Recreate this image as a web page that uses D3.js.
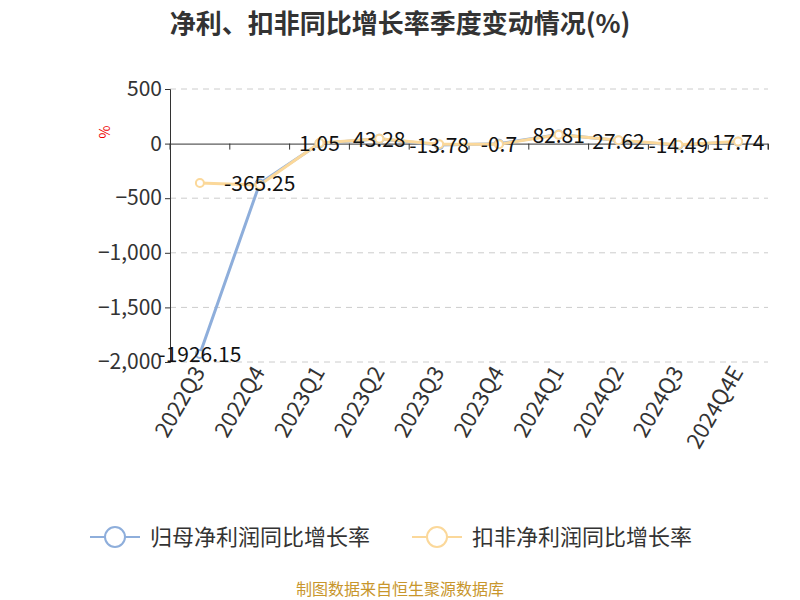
<!DOCTYPE html><html><head><meta charset="utf-8"><script src="https://d3js.org/d3.v7.min.js"></script>
<style>body{margin:0;background:#fff}text{font-family:"Noto Sans CJK SC","Open Sans",sans-serif}</style></head><body><svg id="c" width="800" height="600"></svg>
<script>
const categories=["2022Q3","2022Q4","2023Q1","2023Q2","2023Q3","2023Q4","2024Q1","2024Q2","2024Q3","2024Q4E"];
const netGrowth=[-1926.15,-365.25,1.05,43.28,-13.78,-0.7,82.81,27.62,-14.49,17.74];
const deductGrowth=[-360,-380,5,45,-5,-5,80,30,-10,20];
const yTicks=[500,0,-500,-1000,-1500,-2000];
const svg=d3.select("#c");
const x=d3.scaleBand().domain(categories).range([170,768]);
const y=d3.scaleLinear().domain([-2000,500]).range([362,89]);
svg.append("text").attr("x",400).attr("y",33).attr("text-anchor","middle").attr("font-size",26).attr("font-weight","bold").attr("fill","#333").text("净利、扣非同比增长率季度变动情况(%)");
yTicks.forEach(t=>{ if(t!==0) svg.append("line").attr("x1",170).attr("x2",768).attr("y1",y(t)).attr("y2",y(t)).attr("stroke","#ccc").attr("stroke-dasharray","6,5");});
svg.append("g").attr("transform","translate(170,0)").call(d3.axisLeft(y).tickValues(yTicks).tickFormat(d3.format(",")).tickSize(5)).call(g=>{g.selectAll("text").attr("font-size",21).attr("fill","#333");g.selectAll("line,path").attr("stroke","#333");});
const xa=svg.append("g").attr("transform",`translate(0,${y(0)})`).call(d3.axisBottom(x).tickSize(6).tickFormat(""));
xa.selectAll("line,path").attr("stroke","#333");
xa.selectAll(".tick line").attr("transform",`translate(${-x.bandwidth()/2},0)`);
svg.append("line").attr("x1",768).attr("x2",768).attr("y1",y(0)).attr("y2",y(0)+6).attr("stroke","#333");
categories.forEach(c=>{svg.append("text").attr("transform",`translate(${x(c)+x.bandwidth()/2+6},372) rotate(-60)`).attr("text-anchor","end").attr("font-size",22).attr("fill","#333").text(c);});
svg.append("text").attr("transform","translate(110,132) rotate(-90)").attr("text-anchor","middle").attr("font-size",14).attr("fill","#e00").text("%");
const cx=c=>x(c)+x.bandwidth()/2;
const line=d3.line().x((d,i)=>cx(categories[i])).y(d=>y(d));
svg.append("path").attr("d",line(netGrowth)).attr("fill","none").attr("stroke","#8eaedb").attr("stroke-width",3);
svg.append("path").attr("d",line(deductGrowth)).attr("fill","none").attr("stroke","#fbd89a").attr("stroke-width",3);
[[netGrowth,"#8eaedb"],[deductGrowth,"#fbd89a"]].forEach(([s,col])=>{s.forEach((d,i)=>svg.append("circle").attr("cx",cx(categories[i])).attr("cy",y(d)).attr("r",4).attr("fill","#fff").attr("stroke",col).attr("stroke-width",2));});
netGrowth.forEach((d,i)=>svg.append("text").attr("x",cx(categories[i])).attr("y",y(d)+8).attr("text-anchor","middle").attr("font-size",21).attr("fill","#111").text(d));
const leg=[["归母净利润同比增长率","#8eaedb",90],["扣非净利润同比增长率","#fbd89a",412]];
leg.forEach(([t,col,lx])=>{svg.append("line").attr("x1",lx).attr("x2",lx+50).attr("y1",537).attr("y2",537).attr("stroke",col).attr("stroke-width",2);svg.append("circle").attr("cx",lx+25).attr("cy",537).attr("r",10).attr("fill","#fff").attr("stroke",col).attr("stroke-width",2);svg.append("text").attr("x",lx+60).attr("y",545).attr("font-size",22).attr("fill","#333").text(t);});
svg.append("text").attr("x",400).attr("y",595).attr("text-anchor","middle").attr("font-size",16).attr("fill","#c8962c").text("制图数据来自恒生聚源数据库");
</script></body></html>
